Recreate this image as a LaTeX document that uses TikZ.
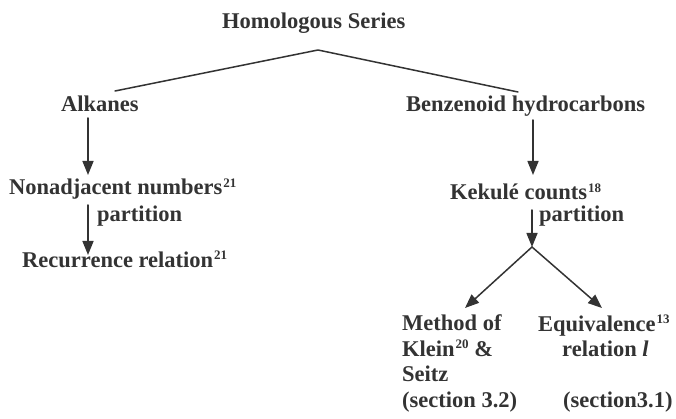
\documentclass[tikz,border=0pt]{standalone}
\usepackage{fontspec}
\setmainfont{Liberation Serif}
\usepackage{xcolor}
\usepackage{tikz}
\usetikzlibrary{arrows.meta}
\definecolor{ink}{gray}{0.2}
\newcommand{\citeno}[1]{\kern1pt\raisebox{7.5pt}{\fontsize{13}{13}\selectfont #1}}

\begin{document}
\begin{tikzpicture}[line cap=round,line join=round,>={Triangle[length=14pt,width=11pt]},x=1pt,y=-1pt,
  lbl/.style={inner sep=0pt,anchor=base west,text=ink,font=\fontsize{22.5}{25.5}\selectfont\bfseries},
  lnk/.style={draw=ink,line width=1.5pt}]
\clip(0,0) rectangle (676,419);
% texts
\node[lbl] (hs) at (222,29) {Homologous Series};
\node[lbl] (alk) at (61,112) {Alkanes};
\node[lbl] (bhc) at (406,112) {Benzenoid hydrocarbons};
\node[lbl] (nan) at (9,195) {Nonadjacent numbers\citeno{21}};
\node[lbl] (lpt) at (97,222) {partition};
\node[lbl] (rec) at (22,267) {Recurrence relation\citeno{21}};
\node[lbl] (kek) at (450,200) {Kekulé counts\citeno{18}};
\node[lbl] (rpt) at (539,222) {partition};
\node[lbl,anchor=north west,align=left] (mks) at (402,314.8)
  {Method of\\Klein\citeno{20} \&\\Seitz\\(section 3.2)};
\node[lbl,anchor=north west,align=left] (eqv) at (538,314.8)
  {Equivalence\citeno{13}\\\hspace*{24pt}relation \textit{l}\\[25.5pt]\hspace*{25pt}(section3.1)};
% junctions
\coordinate (peak) at (318,50);
\coordinate (alkl) at (115,91);
\coordinate (bhcl) at (518,92);
\coordinate (a1) at (88,118);
\coordinate (a1t) at (88,175);
\coordinate (a2) at (88,205);
\coordinate (a2t) at (88,255);
\coordinate (b1) at (533,120);
\coordinate (b1t) at (533,175);
\coordinate (b2) at (532,210);
\coordinate (fork) at (532,247);
\coordinate (mkst) at (465,308);
\coordinate (eqvt) at (602,308);
% connectors
\draw[lnk] (alkl) -- (peak) -- (bhcl);
\draw[lnk,->] (a1) -- (a1t);
\draw[lnk,->] (a2) -- (a2t);
\draw[lnk,->] (b1) -- (b1t);
\draw[lnk,->] (b2) -- (fork);
\draw[lnk,->] (fork) -- (mkst);
\draw[lnk,->] (fork) -- (eqvt);
\end{tikzpicture}
\end{document}
